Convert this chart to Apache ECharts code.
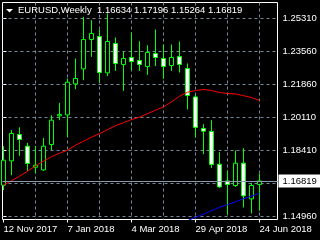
<!DOCTYPE html>
<html><head><meta charset="utf-8">
<script src="https://cdn.jsdelivr.net/npm/echarts@6/dist/echarts.min.js"></script>
<style>html,body{margin:0;padding:0;background:#000;}#c{width:320px;height:240px;}</style>
</head><body><div id="c"></div>
<script>
const symbol = 'EURUSD';
const period = 'Weekly';
const weeks = ['12 Nov 2017','19 Nov 2017','26 Nov 2017','3 Dec 2017','10 Dec 2017','17 Dec 2017','24 Dec 2017','31 Dec 2017',
  '7 Jan 2018','14 Jan 2018','21 Jan 2018','28 Jan 2018','4 Feb 2018','11 Feb 2018','18 Feb 2018','25 Feb 2018',
  '4 Mar 2018','11 Mar 2018','18 Mar 2018','25 Mar 2018','1 Apr 2018','8 Apr 2018','15 Apr 2018','22 Apr 2018',
  '29 Apr 2018','6 May 2018','13 May 2018','20 May 2018','27 May 2018','3 Jun 2018','10 Jun 2018','17 Jun 2018','24 Jun 2018'];
const open  = [1.16596,1.17866,1.19246,1.18635,1.17537,1.17396,1.18724,1.20219,1.20271,1.21891,1.22675,1.24212,1.24369,1.22466,1.24003,1.22905,1.23271,1.23115,1.22801,1.23480,1.23219,1.22853,1.23324,1.22696,1.21212,1.19560,1.19403,1.17694,1.16821,1.16580,1.17746,1.15880,1.16634];
const high  = [1.18635,1.19471,1.19628,1.18807,1.18650,1.19069,1.20255,1.20898,1.22174,1.23219,1.25394,1.25221,1.24735,1.25571,1.24317,1.23564,1.24578,1.24123,1.23914,1.24735,1.23951,1.23951,1.24108,1.22958,1.21353,1.19785,1.19994,1.18321,1.17365,1.18410,1.18530,1.16716,1.17196];
const low   = [1.16335,1.17119,1.18128,1.17344,1.17208,1.17344,1.18426,1.19994,1.19121,1.21614,1.22085,1.23303,1.21965,1.22294,1.22571,1.21525,1.22607,1.22571,1.22362,1.22817,1.22153,1.22571,1.22487,1.20553,1.19090,1.18216,1.17500,1.16455,1.15064,1.16507,1.15430,1.15117,1.15264];
const close = [1.17903,1.19299,1.18985,1.17730,1.17642,1.18635,1.19994,1.20292,1.21980,1.22174,1.24212,1.24526,1.22487,1.24108,1.22958,1.23219,1.23062,1.22905,1.23533,1.23271,1.22801,1.23271,1.22905,1.21285,1.19612,1.19419,1.17678,1.16507,1.16633,1.17746,1.16037,1.16580,1.16819];
const maRed = [1.16596,1.16831,1.17066,1.17328,1.17605,1.17851,1.18086,1.18269,1.18426,1.18687,1.18896,1.19105,1.19288,1.19497,1.19706,1.19863,1.20030,1.20151,1.20334,1.20517,1.20689,1.20950,1.21248,1.21457,1.21546,1.21599,1.21546,1.21442,1.21390,1.21369,1.21274,1.21180,1.21024];
const maBlue = [null,null,null,null,null,null,null,null,null,null,null,null,null,null,null,null,null,null,null,null,null,null,
  1.14557,1.14740,1.14923,1.15080,1.15263,1.15446,1.15577,1.15734,1.15890,1.16021,1.16178];
const xLabelIdx = [0,8,16,24,32];
const xGridIdx = [4,8,12,16,20,24,28,32];
const yGridValues = [1.14960,1.16685,1.18410,1.20135,1.21860,1.23585,1.25310];
const yTickLabels = ['1.14960','','1.18410','1.20110','1.21860','1.23560','1.25310'];

const FONT = '"Liberation Sans",Arial,sans-serif';
const FS = 9.5;
const fmt = v => v.toFixed(5);
const n = weeks.length;
const candleData = weeks.map((w, i) => [i, open[i], close[i], low[i], high[i]]);
const chart = echarts.init(document.getElementById('c'), null, {renderer: 'canvas', width: 320, height: 240});
chart.setOption({
  animation: false,
  backgroundColor: '#000',
  title: {
    text: symbol + ',' + period + '  ' + fmt(open[n-1]) + ' ' + fmt(high[n-1]) + ' ' + fmt(low[n-1]) + ' ' + fmt(close[n-1]),
    left: 18, top: 5, padding: 0,
    textStyle: {color: '#fff', fontFamily: FONT, fontSize: FS, fontWeight: 'normal'}
  },
  graphic: [{type: 'polygon', shape: {points: [[6, 9], [13, 9], [9.5, 12.5]]}, style: {fill: '#fff'}, z: 100}],
  grid: {left: 2.5, top: 2.5, width: 275, height: 217, show: true, borderColor: '#fff', borderWidth: 1, backgroundColor: '#000'},
  xAxis: [
    {type: 'value', min: -0.125, max: 34.25,
      axisLine: {show: false}, splitLine: {show: false},
      axisTick: {show: true, customValues: xLabelIdx, length: 3, lineStyle: {color: '#fff'}},
      axisLabel: {customValues: xLabelIdx, formatter: v => weeks[Math.round(v)], color: '#fff', fontFamily: FONT, fontSize: FS, align: 'left', margin: 5}
    },
    {type: 'value', min: -0.125, max: 34.25, position: 'bottom',
      axisLine: {show: false}, axisLabel: {show: false},
      axisTick: {show: false, customValues: xGridIdx},
      splitLine: {show: true, lineStyle: {color: '#778899', type: [3, 3], width: 1}}
    }
  ],
  yAxis: {type: 'value', position: 'right', min: 1.14803, max: 1.26146,
    axisLine: {show: false},
    axisTick: {show: true, customValues: yGridValues, length: 3, lineStyle: {color: '#fff'}},
    axisLabel: {customValues: yGridValues, color: '#fff', fontFamily: FONT, fontSize: FS, margin: 5,
      formatter: v => { let b = 0; yGridValues.forEach((g, i) => { if (Math.abs(g - v) < Math.abs(yGridValues[b] - v)) b = i; }); return yTickLabels[b]; }},
    splitLine: {show: true, lineStyle: {color: '#778899', type: [3, 3], width: 1}}
  },
  series: [
    {type: 'candlestick', xAxisIndex: 0, data: candleData, barWidth: 4,
      itemStyle: {color: '#000', color0: '#fff', borderColor: '#00ff00', borderColor0: '#00ff00', borderWidth: 1},
      markLine: {silent: true, symbol: ['none', 'none'], animation: false, precision: 5,
        data: [{yAxis: close[n-1]}],
        lineStyle: {color: '#8a9aaa', type: 'solid', width: 1},
        label: {show: true, position: 'end', formatter: () => fmt(close[n-1]), color: '#000', backgroundColor: '#fff',
          fontFamily: FONT, fontSize: FS, padding: [2, 4, 1, 4], distance: 1}
      }
    },
    {type: 'line', xAxisIndex: 0, data: maRed.map((v, i) => [i, v]), symbol: 'none', lineStyle: {color: '#ff0000', width: 1}, itemStyle: {color: '#ff0000'}},
    {type: 'line', xAxisIndex: 0, data: maBlue.map((v, i) => [i, v == null ? '-' : v]), symbol: 'none', lineStyle: {color: '#0000ff', width: 1}, itemStyle: {color: '#0000ff'}}
  ]
});
</script>
</body></html>
